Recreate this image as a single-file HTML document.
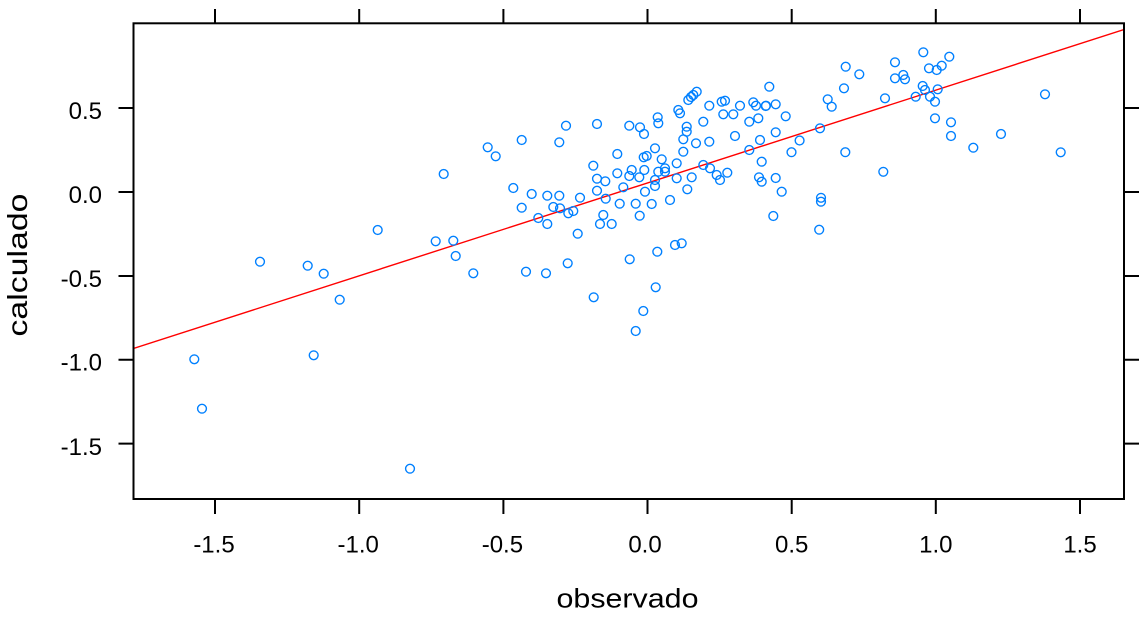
<!DOCTYPE html>
<html>
<head>
<meta charset="utf-8">
<style>
  html, body { margin: 0; padding: 0; background: #ffffff; }
  svg { display: block; }
  text { font-family: "Liberation Sans", Arial, sans-serif; fill: #000; }
</style>
</head>
<body>
<svg width="1146" height="617" viewBox="0 0 1146 617" xmlns="http://www.w3.org/2000/svg">
  <rect x="0" y="0" width="1146" height="617" fill="#ffffff"/>
  <defs>
    <clipPath id="panel"><rect x="133.5" y="23.3" width="990.5" height="475.7"/></clipPath>
    <marker id="pt" markerUnits="userSpaceOnUse" markerWidth="12" markerHeight="12" refX="6" refY="6" overflow="visible">
      <circle cx="6" cy="6" r="4.4" fill="none" stroke="#0080ff" stroke-width="1.4"/>
    </marker>
  </defs>
  <line x1="133.5" y1="348.5" x2="1124" y2="29.5" stroke="#ff0000" stroke-width="1.4" clip-path="url(#panel)"/>
  <polyline fill="none" stroke="none" marker-start="url(#pt)" marker-mid="url(#pt)" marker-end="url(#pt)"
    points="443.7,174 377.7,230 435.7,241.3 453.3,240.7 455.7,256 473.3,273.3 260,261.7 307.7,265.7 323.7,273.7 339.7,299.7 194.3,359.3 313.7,355.3 202,408.7 410,468.7
    487.7,147.3 495.7,156.3 521.7,140 566,125.7 559.3,142.3 597,124 629.3,125.7 640,127.3 644,134 617.3,154 593.3,165.7 643.7,157.3 646.7,156 644.3,170
    513.3,188 531.7,194 547.3,195.7 559.3,195.7 580,197.7 597,178.7 605.3,181.3 597,190.7 617.3,173.3 631.7,170 629.3,176 623.3,187.3 639.3,177.3 645,191.7
    605.7,198.7 619.7,203.7 635.7,203.7 639.7,215.7 521.7,207.7 553.3,207 560,208.3 568.3,213.3 573.3,211 538.3,218 547.3,224 577.7,233.7 603.3,215 600,224 611.7,224
    526,271.7 546,273.3 567.7,263.3 629.7,259.3 593.7,297.3 643.3,311 635.7,331
    657.7,117.3 658.3,123.3 678.3,110 680,113.3 688.3,100 691,97 693.3,95 696.7,91.7 703.3,121.7 709.3,105.7 721.7,101.7 725,100.7 723.3,114.3 733.3,114.3 740,105.7
    753.3,102.3 756,105.7 749.3,121.7 758.3,118.3 766,105.7 686.7,126.7 686.7,131.7 683.3,139.3 696,143.3 709.3,141.7 735,136 760,140 749.3,150 761.7,161.7
    655,148.3 683.3,151.7 661.7,159.3 665,168.3 676.7,163.3 658.3,171.7 665,171.7 655,180 676.7,178.3 691.7,177.3 703.3,165 710,168.3 716.7,175 720,180 727.3,172.7
    759,177.3 761.7,181.7 687.3,189.3 655,186 670,200 651.7,204 657.3,251.7 675,245 681.7,243.3 655.7,287.3
    765.7,106 775.7,104.3 769.3,86.7 785.7,116.3 775.7,132.3 773.3,216 781.7,191.7 775.7,178 791.5,152.2 799.6,140.5 820,128.3 827.7,99.3 831.7,106.7
    845.7,66.7 859.3,74.3 844,88.3 845.3,152.2 821,197.8 821,201.7 819.2,229.7 883.3,171.8 885,98.3 895,62.3 895,78.3 903.3,75 905,79.3
    923.3,52.3 929,68.3 936.7,70 941.7,65.7 949.3,56.7 915.7,96.7 922.7,86 925,90 930,96.7 935,101.7 937.7,89.3 935,118.3 951,122.3 951,136
    973.3,147.7 1001,134 1045,94.3 1060.7,152.3"/>
  <rect x="133.5" y="23.3" width="990.5" height="475.7" fill="none" stroke="#000" stroke-width="2"/>
  <path stroke="#000" stroke-width="2" fill="none"
    d="M215 499V514M359.2 499V514M503.4 499V514M647.5 499V514M791.7 499V514M935.8 499V514M1080 499V514
       M215 23.3V9M359.2 23.3V9M503.4 23.3V9M647.5 23.3V9M791.7 23.3V9M935.8 23.3V9M1080 23.3V9
       M118.5 108H133.5M118.5 192H133.5M118.5 276H133.5M118.5 359.8H133.5M118.5 443.6H133.5
       M1124 108H1139M1124 192H1139M1124 276H1139M1124 359.8H1139M1124 443.6H1139"/>
  <g font-size="24" text-anchor="end">
    <text x="102" y="119">0.5</text>
    <text x="102" y="203">0.0</text>
    <text x="102" y="287">-0.5</text>
    <text x="102" y="370.5">-1.0</text>
    <text x="102" y="455">-1.5</text>
  </g>
  <g font-size="24" text-anchor="middle">
    <text x="214" y="552.5">-1.5</text>
    <text x="358.2" y="552.5">-1.0</text>
    <text x="502.4" y="552.5">-0.5</text>
    <text x="645" y="552.5">0.0</text>
    <text x="791.7" y="552.5">0.5</text>
    <text x="935.8" y="552.5">1.0</text>
    <text x="1080" y="552.5">1.5</text>
  </g>
  <text x="556.5" y="607.5" font-size="27" textLength="142" lengthAdjust="spacingAndGlyphs">observado</text>
  <text transform="translate(27,265) rotate(-90)" font-size="28" text-anchor="middle" textLength="143" lengthAdjust="spacingAndGlyphs">calculado</text>
</svg>
</body>
</html>
